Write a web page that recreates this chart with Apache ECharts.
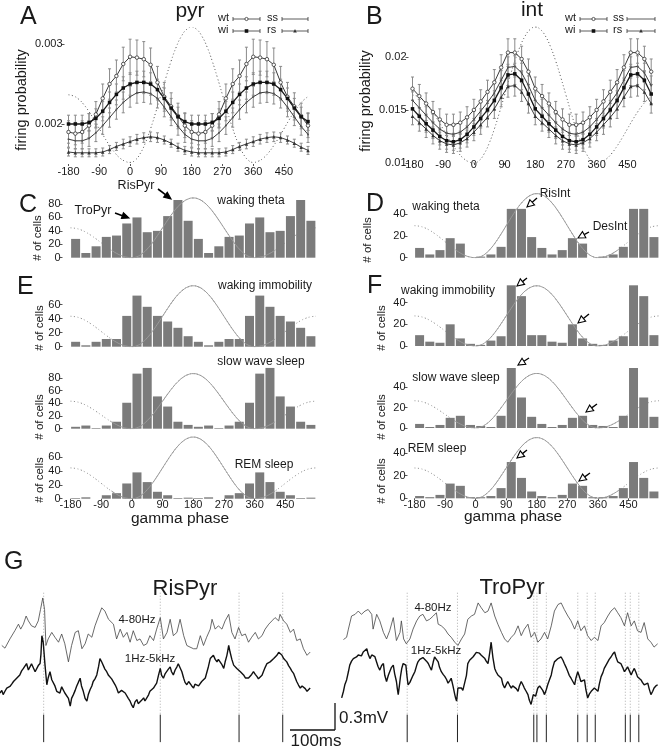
<!DOCTYPE html>
<html><head><meta charset="utf-8">
<script src="https://cdn.jsdelivr.net/npm/echarts@6/dist/echarts.min.js"></script>
<style>html,body{margin:0;padding:0;background:#fff}#c{width:659px;height:747px}</style>
</head><body><div id="c"></div>
<script>
const FONT = '"Liberation Sans", Arial, Helvetica, sans-serif';
const TXT = '#1a1a1a';

// ---------- Panels A/B: firing probability vs gamma phase (20 deg bins, two cycles) ----------
const phasesAB = [-180,-160,-140,-120,-100,-80,-60,-40,-20,0,20,40,60,80,100,120,140,160,180,200,220,240,260,280,300,320,340,360,380,400,420,440,460,480,500,520];
const pyrWt = [0.00190,0.00188,0.00190,0.00198,0.00212,0.00232,0.00250,0.00260,0.00275,0.00284,0.00283,0.00281,0.00274,0.00252,0.00234,0.00222,0.00210,0.00198,
               0.00190,0.00188,0.00190,0.00198,0.00212,0.00232,0.00250,0.00260,0.00275,0.00284,0.00283,0.00281,0.00274,0.00252,0.00234,0.00222,0.00210,0.00198];
const pyrWi = [0.00200,0.00200,0.00200,0.00202,0.00207,0.00216,0.00227,0.00237,0.00245,0.00250,0.00252,0.00252,0.00250,0.00243,0.00232,0.00220,0.00209,0.00203,
               0.00200,0.00200,0.00200,0.00202,0.00207,0.00216,0.00227,0.00237,0.00245,0.00250,0.00252,0.00252,0.00250,0.00243,0.00232,0.00220,0.00209,0.00203];
const pyrSs = [0.00181,0.00179,0.00179,0.00182,0.00189,0.00198,0.00208,0.00218,0.00227,0.00234,0.00239,0.00240,0.00238,0.00232,0.00221,0.00209,0.00197,0.00187,
               0.00181,0.00179,0.00179,0.00182,0.00189,0.00198,0.00208,0.00218,0.00227,0.00234,0.00239,0.00240,0.00238,0.00232,0.00221,0.00209,0.00197,0.00187];
const pyrRs = [0.00165,0.00164,0.00164,0.00164,0.00164,0.00165,0.00168,0.00172,0.00175,0.00178,0.00181,0.00183,0.00184,0.00183,0.00180,0.00176,0.00171,0.00167,
               0.00165,0.00164,0.00164,0.00164,0.00164,0.00165,0.00168,0.00172,0.00175,0.00178,0.00181,0.00183,0.00184,0.00183,0.00180,0.00176,0.00171,0.00167];
const pyrWtErr = [0.00014,0.00014,0.00014,0.00015,0.00016,0.00018,0.00019,0.00020,0.00021,0.00022,0.00022,0.00022,0.00021,0.00020,0.00018,0.00017,0.00016,0.00015,
                  0.00014,0.00014,0.00014,0.00015,0.00016,0.00018,0.00019,0.00020,0.00021,0.00022,0.00022,0.00022,0.00021,0.00020,0.00018,0.00017,0.00016,0.00015];
const pyrWiErr = [0.00011,0.00011,0.00011,0.00011,0.00012,0.00012,0.00013,0.00013,0.00014,0.00014,0.00014,0.00014,0.00014,0.00013,0.00013,0.00012,0.00012,0.00011,
                  0.00011,0.00011,0.00011,0.00011,0.00012,0.00012,0.00013,0.00013,0.00014,0.00014,0.00014,0.00014,0.00014,0.00013,0.00013,0.00012,0.00012,0.00011];
const pyrSsErr = [0.00010,0.00010,0.00010,0.00010,0.00011,0.00011,0.00012,0.00012,0.00013,0.00013,0.00013,0.00013,0.00013,0.00012,0.00012,0.00011,0.00011,0.00010,
                  0.00010,0.00010,0.00010,0.00010,0.00011,0.00011,0.00012,0.00012,0.00013,0.00013,0.00013,0.00013,0.00013,0.00012,0.00012,0.00011,0.00011,0.00010];
const pyrRsErr = [0.00005,0.00005,0.00005,0.00005,0.00005,0.00005,0.00005,0.00005,0.00006,0.00006,0.00006,0.00006,0.00006,0.00006,0.00005,0.00005,0.00005,0.00005,
                  0.00005,0.00005,0.00005,0.00005,0.00005,0.00005,0.00005,0.00005,0.00006,0.00006,0.00006,0.00006,0.00006,0.00006,0.00005,0.00005,0.00005,0.00005];

const intWt = [0.0170,0.0163,0.0156,0.0148,0.0141,0.0136,0.0136,0.0138,0.0143,0.0150,0.0158,0.0167,0.0176,0.0190,0.0204,0.0204,0.0198,0.0186,
               0.0170,0.0163,0.0156,0.0148,0.0141,0.0136,0.0136,0.0138,0.0143,0.0150,0.0158,0.0167,0.0176,0.0190,0.0204,0.0204,0.0198,0.0186];
const intSs = [0.0159,0.0152,0.0145,0.0138,0.0132,0.0128,0.0127,0.0129,0.0134,0.0141,0.0149,0.0157,0.0166,0.0178,0.0190,0.0191,0.0185,0.0173,
               0.0159,0.0152,0.0145,0.0138,0.0132,0.0128,0.0127,0.0129,0.0134,0.0141,0.0149,0.0157,0.0166,0.0178,0.0190,0.0191,0.0185,0.0173];
const intWi = [0.0151,0.0144,0.0137,0.0131,0.0125,0.0121,0.0120,0.0122,0.0127,0.0134,0.0142,0.0150,0.0159,0.0171,0.0183,0.0184,0.0178,0.0165,
               0.0151,0.0144,0.0137,0.0131,0.0125,0.0121,0.0120,0.0122,0.0127,0.0134,0.0142,0.0150,0.0159,0.0171,0.0183,0.0184,0.0178,0.0165];
const intRs = [0.0144,0.0138,0.0132,0.0126,0.0121,0.0118,0.0117,0.0119,0.0123,0.0129,0.0136,0.0143,0.0151,0.0162,0.0172,0.0173,0.0167,0.0156,
               0.0144,0.0138,0.0132,0.0126,0.0121,0.0118,0.0117,0.0119,0.0123,0.0129,0.0136,0.0143,0.0151,0.0162,0.0172,0.0173,0.0167,0.0156];
const intWtErr = [0.0011,0.0011,0.0010,0.0010,0.0010,0.0010,0.0010,0.0010,0.0010,0.0010,0.0011,0.0011,0.0012,0.0012,0.0013,0.0013,0.0012,0.0012,
                  0.0011,0.0011,0.0010,0.0010,0.0010,0.0010,0.0010,0.0010,0.0010,0.0010,0.0011,0.0011,0.0012,0.0012,0.0013,0.0013,0.0012,0.0012];
const intOtherErr = [0.0008,0.0008,0.0008,0.0008,0.0008,0.0008,0.0008,0.0008,0.0008,0.0008,0.0009,0.0009,0.0009,0.0009,0.0010,0.0010,0.0009,0.0009,
                     0.0008,0.0008,0.0008,0.0008,0.0008,0.0008,0.0008,0.0008,0.0008,0.0008,0.0009,0.0009,0.0009,0.0009,0.0010,0.0010,0.0009,0.0009];

// ---------- Panels C-F: histograms (# of cells, 30 deg bins, two cycles) ----------
const binCenters = [-165,-135,-105,-75,-45,-15,15,45,75,105,135,165,195,225,255,285,315,345,375,405,435,465,495,525];
const pyrTheta = [28,7,17,31,33,51,60,38,40,62,86,55, 28,7,17,31,33,51,60,38,40,62,86,55];
const pyrImmob = [7,2,7,11,11,44,73,57,44,36,27,15, 7,2,7,11,11,44,73,57,44,36,27,15];
const pyrSws   = [3,5,1,5,11,41,87,96,51,35,11,6, 3,5,1,5,11,41,87,96,51,35,11,6];
const pyrRem   = [1,2,0,5,8,22,38,24,10,5,1,1.5, 1,2,0,5,8,22,38,24,10,5,1,1.5];
const intTheta = [9,3,7,18,13,0,1,3,10,45,45,19, 9,3,7,18,13,0,1,3,10,45,45,19];
const intImmob = [10,4,3,20,7,2,1,5,9,56,46,10, 10,4,3,20,7,2,1,5,9,56,46,10];
const intSws   = [4,1,3,10,12,3,2,1,12,59,30,11, 4,1,3,10,12,3,2,1,12,59,30,11];
const intRem   = [2,1,3,13,11,1,1,2,9,32,18,6, 2,1,3,13,11,1,1,2,9,32,18,6];

// reference gamma cycle (normalised 0..1; outer cycles at half amplitude)
const gammaPhases = [-180,-165,-150,-135,-120,-105,-90,-75,-60,-45,-30,-15,0,15,30,45,60,75,90,105,120,135,150,165,180,195,210,225,240,255,270,285,300,315,330,345,360,375,390,405,420,435,450,465,480,495,510,525,540];
const gammaShape = [0.5,0.491,0.467,0.427,0.375,0.315,0.25,0.185,0.125,0.073,0.033,0.009,0,
                    0.017,0.067,0.146,0.25,0.371,0.5,0.629,0.75,0.854,0.933,0.983,1,
                    0.983,0.933,0.854,0.75,0.629,0.5,0.371,0.25,0.146,0.067,0.017,0,
                    0.009,0.033,0.073,0.125,0.185,0.25,0.315,0.375,0.427,0.467,0.491,0.5];
const phaseTicks = [-180,-90,0,90,180,270,360,450];

// ---------- Panel G: traces (t in ms, v in microvolt) ----------
const risFast = [[4,37],[11,7],[22,111],[33,204],[41,278],[46,222],[52,278],[58,370],[63,315],[70,259],[78,241],[85,315],[90,444],[95,574],[99,444],[102,37],[107,111],[115,185],[122,130],[130,74],[137,167],[144,56],[152,-148],[159,37],[167,185],[174,204],[182,0],[189,56],[196,167],[204,130],[211,259],[219,370],[226,463],[233,426],[241,333],[252,278],[259,111],[267,222],[274,130],[282,185],[289,74],[296,204],[304,93],[311,111],[319,37],[326,56],[333,148],[341,93],[348,222],[356,352],[363,111],[371,185],[378,333],[385,148],[393,185],[400,333],[408,148],[415,37],[422,19],[430,0],[437,0],[445,148],[452,37],[459,130],[467,222],[471,333],[478,222],[485,259],[493,222],[500,315],[508,389],[515,185],[522,111],[530,241],[537,148],[545,167],[552,74],[559,130],[567,185],[574,111],[582,148],[589,222],[597,278],[604,315],[611,352],[619,315],[622,389],[630,315],[637,278],[645,185],[652,222],[659,93],[667,111],[674,0],[682,-74],[689,-37]];
const risRaw = [[0,-500],[4,-470],[7,-518],[11,-480],[15,-444],[19,-460],[22,-426],[26,-400],[30,-370],[33,-390],[37,-333],[41,-320],[44,-296],[48,-250],[52,-222],[55,-200],[59,-167],[63,-240],[67,-222],[70,-170],[74,-185],[78,-260],[82,-241],[85,-190],[89,-167],[91,-60],[93,148],[96,74],[100,-185],[104,-407],[107,-330],[111,-259],[115,-350],[119,-333],[122,-420],[126,-481],[130,-460],[133,-500],[137,-430],[141,-444],[144,-500],[148,-481],[152,-560],[156,-648],[159,-560],[163,-518],[167,-470],[170,-426],[174,-380],[178,-333],[181,-420],[185,-481],[189,-560],[193,-592],[196,-520],[200,-463],[204,-420],[207,-370],[211,-340],[215,-296],[219,-200],[222,-111],[226,-150],[230,-167],[233,-230],[237,-259],[241,-300],[245,-296],[248,-340],[252,-352],[256,-410],[259,-444],[263,-500],[267,-518],[270,-470],[274,-463],[278,-500],[282,-518],[285,-560],[289,-592],[293,-640],[296,-666],[300,-600],[304,-574],[307,-620],[311,-629],[315,-580],[319,-555],[322,-590],[326,-574],[330,-520],[333,-481],[337,-470],[341,-444],[344,-420],[348,-389],[352,-300],[356,-222],[359,-300],[363,-333],[367,-280],[371,-259],[374,-230],[378,-204],[381,-260],[385,-296],[389,-240],[393,-204],[396,-170],[400,-148],[404,-260],[408,-333],[411,-380],[415,-407],[419,-370],[422,-352],[426,-420],[430,-444],[433,-400],[437,-389],[441,-420],[445,-407],[448,-370],[452,-352],[456,-330],[459,-315],[463,-200],[467,-111],[470,-90],[474,-74],[478,-120],[482,-148],[485,-120],[489,-111],[493,-180],[497,-222],[500,-150],[504,-74],[506,-20],[508,37],[511,-37],[515,-120],[519,-185],[522,-200],[526,-222],[530,-240],[534,-259],[537,-280],[541,-296],[545,-330],[548,-352],[552,-330],[556,-315],[559,-290],[563,-259],[567,-290],[571,-315],[574,-340],[578,-352],[582,-300],[585,-259],[589,-210],[593,-167],[596,-160],[600,-148],[604,-130],[608,-111],[611,-90],[615,-74],[619,-40],[622,-19],[626,-70],[630,-111],[633,-130],[637,-148],[641,-190],[645,-222],[648,-250],[652,-278],[656,-330],[659,-370],[663,-410],[667,-444],[671,-420],[674,-407],[678,-450],[682,-481],[685,-460],[689,-444]];
const risSpikes = [97,356,531,628];

const troFast = [[30,104],[37,130],[41,222],[48,370],[56,389],[63,426],[70,389],[78,426],[85,444],[93,389],[96,222],[104,389],[111,315],[119,185],[126,111],[133,204],[141,352],[148,93],[156,185],[159,315],[164,111],[170,56],[178,111],[185,222],[193,315],[200,370],[207,389],[215,315],[222,333],[230,370],[237,407],[241,278],[248,259],[256,222],[263,167],[270,130],[278,74],[285,37],[293,111],[300,167],[307,333],[315,370],[322,389],[330,518],[337,463],[345,407],[352,426],[359,518],[367,370],[374,278],[382,185],[389,111],[396,74],[404,130],[411,167],[419,259],[426,148],[433,222],[441,278],[448,130],[456,185],[463,74],[470,111],[478,185],[485,111],[493,259],[500,426],[508,500],[515,518],[522,444],[530,370],[537,315],[545,222],[552,315],[559,204],[567,259],[574,148],[582,93],[589,130],[597,93],[604,259],[611,296],[619,370],[626,426],[634,463],[641,407],[648,352],[656,259],[663,407],[671,259],[678,315],[685,204],[693,185],[700,296],[708,111],[715,74],[722,19],[730,56]];
const troRaw = [[26,-555],[30,-480],[33,-407],[37,-352],[41,-260],[44,-185],[48,-140],[52,-111],[55,-130],[59,-93],[63,-70],[67,-56],[70,-80],[74,-37],[78,-20],[82,0],[85,-60],[89,-111],[93,-70],[96,-56],[100,-90],[104,-111],[107,-200],[111,-241],[115,-190],[119,-167],[122,-300],[126,-370],[130,-300],[133,-259],[137,-210],[141,-185],[144,-280],[148,-370],[150,-450],[152,-518],[155,-400],[157,-315],[160,-220],[163,-167],[166,-175],[169,-185],[172,-330],[174,-407],[178,-380],[182,-370],[185,-300],[189,-259],[193,-190],[196,-148],[200,-120],[204,-111],[207,-100],[211,-93],[215,-140],[219,-167],[222,-200],[226,-241],[230,-150],[233,-93],[237,-120],[241,-148],[244,-210],[248,-259],[252,-290],[256,-315],[260,-350],[263,-389],[267,-360],[270,-333],[274,-420],[278,-518],[280,-560],[282,-592],[284,-500],[285,-444],[289,-430],[293,-444],[296,-470],[300,-481],[304,-300],[307,-167],[311,-130],[315,-111],[319,-90],[322,-74],[326,-40],[330,-19],[333,-50],[337,-74],[341,-90],[345,-111],[348,-140],[352,-167],[356,-40],[359,74],[363,-100],[367,-222],[370,-260],[374,-296],[378,-310],[382,-333],[385,-400],[389,-444],[393,-400],[396,-370],[400,-410],[404,-444],[407,-420],[411,-407],[415,-450],[419,-481],[422,-420],[426,-370],[430,-410],[433,-444],[437,-480],[441,-518],[444,-580],[448,-629],[451,-560],[453,-518],[456,-530],[458,-537],[461,-480],[463,-444],[467,-420],[470,-407],[474,-470],[478,-518],[482,-460],[485,-407],[489,-350],[493,-296],[496,-220],[500,-148],[504,-130],[508,-111],[511,-100],[515,-93],[519,-130],[522,-167],[526,-210],[530,-259],[533,-300],[537,-333],[541,-370],[545,-407],[548,-330],[552,-259],[556,-320],[559,-370],[563,-360],[567,-352],[570,-460],[574,-555],[578,-510],[582,-481],[585,-460],[589,-444],[593,-460],[597,-481],[600,-400],[604,-315],[608,-270],[611,-222],[615,-185],[619,-148],[622,-120],[626,-93],[630,-60],[634,-37],[637,-90],[641,-148],[645,-160],[648,-167],[652,-210],[656,-259],[660,-230],[663,-204],[667,-250],[671,-296],[674,-260],[678,-222],[682,-270],[685,-315],[689,-330],[693,-352],[696,-380],[700,-407],[704,-400],[708,-389],[711,-450],[715,-518],[719,-480],[722,-444],[726,-420],[730,-407]];
const troSpikes = [172,284,454,461,482,552,573,591,658,669,688];

// ================= build option =================
const grids = [], xAxes = [], yAxes = [], series = [], gfx = [];
function addGrid(g, x, y) { grids.push(g); const i = grids.length - 1; x.gridIndex = i; y.gridIndex = i; xAxes.push(x); yAxes.push(y); return i; }
function phaseX(min, max, labels, margin) {
  return { type:'value', min:min, max:max, axisLine:{show:false, onZero:false}, splitLine:{show:false},
    axisTick:{show:labels, length:2, customValues:phaseTicks, lineStyle:{color:'#555', width:1}},
    axisLabel:{show:labels, customValues:phaseTicks, fontSize:11, color:TXT, fontFamily:FONT, margin:margin} };
}
function valY(min, max, ticks, offset, fmt) {
  const y = { type:'value', min:min, max:max, offset:offset, axisLine:{show:false, onZero:false}, splitLine:{show:false},
    axisTick:{show:true, length:3, customValues:ticks, lineStyle:{color:'#555', width:1}},
    axisLabel:{customValues:ticks, fontSize:11, color:TXT, fontFamily:FONT, margin:2} };
  if (fmt) y.axisLabel.formatter = fmt;
  return y;
}
function zip(xs, ys) { return xs.map((x, i) => [x, ys[i]]); }
function gammaData(lo, hi, keep) {
  const out = [];
  gammaPhases.forEach((p, i) => { if (!keep || keep(p)) out.push([p, lo + gammaShape[i] * (hi - lo)]); });
  return out;
}
function gammaLines(g, lo, hi, allDotted) {
  series.push({ type:'line', xAxisIndex:g, yAxisIndex:g, data:gammaData(lo, hi), showSymbol:false, smooth:true, silent:true, z:1,
    lineStyle:{color: allDotted ? '#555' : '#8a8a8a', width:1, type:[1,2.5]} });
  if (!allDotted) series.push({ type:'line', xAxisIndex:g, yAxisIndex:g, data:gammaData(lo, hi, p => p >= -60 && p <= 420),
    showSymbol:false, smooth:true, silent:true, z:4, lineStyle:{color:'#9a9a9a', width:1} });
}
function errSeries(g, xs, ys, es, color) {
  return { type:'custom', xAxisIndex:g, yAxisIndex:g, silent:true, z:2,
    data: xs.map((x, i) => [x, ys[i] - es[i], ys[i] + es[i]]),
    renderItem: function (params, api) {
      const a = api.coord([api.value(0), api.value(1)]), b = api.coord([api.value(0), api.value(2)]);
      const st = {stroke:color, lineWidth:1};
      return { type:'group', children:[
        {type:'line', shape:{x1:a[0], y1:a[1], x2:b[0], y2:b[1]}, style:st},
        {type:'line', shape:{x1:a[0]-1.5, y1:a[1], x2:a[0]+1.5, y2:a[1]}, style:st},
        {type:'line', shape:{x1:b[0]-1.5, y1:b[1], x2:b[0]+1.5, y2:b[1]}, style:st}
      ]};
    } };
}
function curve(g, ys, kind) {
  const s = { type:'line', xAxisIndex:g, yAxisIndex:g, data:zip(phasesAB, ys), showSymbol:true, silent:true, z:3,
    lineStyle:{color:'#3a3a3a', width:1} };
  if (kind === 'wt') { s.symbol = 'circle'; s.symbolSize = 3.5; s.itemStyle = {color:'#fff', borderColor:'#333', borderWidth:0.8}; }
  if (kind === 'wi') { s.symbol = 'rect'; s.symbolSize = 3.5; s.itemStyle = {color:'#111'}; s.lineStyle = {color:'#1a1a1a', width:1.3}; }
  if (kind === 'ss') { s.symbol = 'circle'; s.symbolSize = 2; s.itemStyle = {color:'#555'}; }
  if (kind === 'rs') { s.symbol = 'triangle'; s.symbolSize = 3.5; s.itemStyle = {color:'#333'}; }
  series.push(s);
}
function bars(g, vals) {
  series.push({ type:'bar', xAxisIndex:g, yAxisIndex:g, data:zip(binCenters, vals), barWidth:9, silent:true, z:2,
    itemStyle:{color:'#7b7b7b'} });
}

// ---- A ----
const gA = addGrid({left:68.5, top:28, width:239.5, height:136},
  phaseX(-180, 520, true, 2), valY(0.0015, 0.0032, [0.002, 0.003], 4, v => v.toFixed(3)));
gammaLines(gA, 0.00152, 0.00321, true);
[[pyrWt,pyrWtErr,'wt'],[pyrWi,pyrWiErr,'wi'],[pyrSs,pyrSsErr,'ss'],[pyrRs,pyrRsErr,'rs']].forEach(d => {
  series.push(errSeries(gA, phasesAB, d[0], d[1], '#8a8a8a')); curve(gA, d[0], d[2]);
});
// ---- B ----
const gB = addGrid({left:412.5, top:25, width:238.7, height:138},
  phaseX(-180, 520, true, -4), valY(0.01, 0.023, [0.01, 0.015, 0.02], 4, v => String(+v.toFixed(3))));
gammaLines(gB, 0.01, 0.0228, true);
[[intWt,intWtErr,'wt'],[intSs,intOtherErr,'ss'],[intWi,intOtherErr,'wi'],[intRs,intOtherErr,'rs']].forEach(d => {
  series.push(errSeries(gB, phasesAB, d[0], d[1], '#8a8a8a')); curve(gB, d[0], d[2]);
});
// ---- histograms ----
function hist(left, width, top, height, ymax, ticks, vals, peak, showX, yoff) {
  const g = addGrid({left:left, top:top, width:width, height:height}, phaseX(-180, 540, showX, 1), valY(0, ymax, ticks, yoff));
  gammaLines(g, 0, peak, false);
  bars(g, vals);
  return g;
}
hist(70.5, 245.5, 197.3, 60.4, 90, [0,20,40,60,80], pyrTheta, 89, false, 8);
hist(414.5, 245, 192.6, 65.1, 60, [0,20,40], intTheta, 59, false, 7);
hist(70.5, 245.5, 285.1, 61.6, 88, [0,20,40,60], pyrImmob, 87, false, 8);
hist(70.5, 245.5, 367.3, 61.4, 97, [0,20,40,60,80], pyrSws, 87, false, 8);
hist(70.5, 245.5, 436.4, 62.3, 90, [0,20,40,60], pyrRem, 89, true, 8);
hist(414.5, 245, 285.3, 60.7, 56, [0,20,40], intImmob, 55.5, false, 7);
hist(414.5, 245, 367.5, 60.5, 59.5, [0,20,40], intSws, 53.6, false, 7);
hist(414.5, 245, 437.1, 61.2, 54, [0,20,40], intRem, 53.5, true, 7);

// ---- G traces ----
function hidden(min, max) { return {type:'value', min:min, max:max, show:false, splitLine:{show:false}, axisLine:{onZero:false}}; }
function spikeSeries(g, times) {
  return { type:'custom', xAxisIndex:g, yAxisIndex:g, silent:true, z:1, data: times.map(t => [t, 0]),
    renderItem: function (params, api) {
      const t = api.value(0);
      const a = api.coord([t, 633]), b = api.coord([t, -744]), c = api.coord([t, -1055]);
      return { type:'group', children:[
        {type:'line', shape:{x1:a[0], y1:a[1], x2:b[0], y2:b[1]}, style:{stroke:'#9a9a9a', lineWidth:0.8, lineDash:[1,2]}},
        {type:'line', shape:{x1:b[0], y1:b[1], x2:c[0], y2:c[1]}, style:{stroke:'#222', lineWidth:1}}
      ]};
    } };
}
[[0, risFast, risRaw, risSpikes], [330, troFast, troRaw, troSpikes]].forEach(d => {
  const g = addGrid({left:d[0], top:580, width:330, height:170}, hidden(0, 733), hidden(-1110, 777));
  series.push(spikeSeries(g, d[3]));
  series.push({type:'line', xAxisIndex:g, yAxisIndex:g, data:d[1], showSymbol:false, silent:true, z:3, lineStyle:{color:'#444', width:0.8}});
  series.push({type:'line', xAxisIndex:g, yAxisIndex:g, data:d[2], showSymbol:false, silent:true, z:3, lineStyle:{color:'#111', width:1.4}});
});

// ================= annotations =================
function T(text, x, y, size, opt) {
  opt = opt || {};
  gfx.push({ type:'text', x:x, y:y, rotation: opt.rot || 0, silent:true, z:10,
    style:{ text:text, fontSize:size, fontFamily:FONT, fill: opt.fill || TXT, align: opt.align || 'center', verticalAlign:'middle' } });
}
function L(x1, y1, x2, y2, color, w, dash) {
  gfx.push({ type:'line', silent:true, z:10, shape:{x1:x1, y1:y1, x2:x2, y2:y2}, style:{stroke: color || '#222', lineWidth: w || 1, lineDash: dash || null} });
}
function arrow(x1, y1, x2, y2, hollow) {
  const ang = Math.atan2(y2 - y1, x2 - x1), Lh = 7, W = hollow ? 3.5 : 3;
  const bx = x2 - Lh * Math.cos(ang), by = y2 - Lh * Math.sin(ang);
  const px = -Math.sin(ang), py = Math.cos(ang);
  L(x1, y1, bx, by, '#000', hollow ? 1.3 : 1.6);
  gfx.push({ type:'polygon', silent:true, z:11, shape:{points:[[x2, y2], [bx + W * px, by + W * py], [bx - W * px, by - W * py]]},
    style:{fill: hollow ? '#fff' : '#000', stroke:'#000', lineWidth:1.1} });
}
function legendLine(x1, x2, y, marker) {
  L(x1, y, x2, y, '#333', 0.8);
  L(x1, y - 2, x1, y + 2, '#333', 0.8); L(x2, y - 2, x2, y + 2, '#333', 0.8);
  const cx = (x1 + x2) / 2;
  if (marker === 'circle') gfx.push({type:'circle', silent:true, z:11, shape:{cx:cx, cy:y, r:1.6}, style:{fill:'#fff', stroke:'#333', lineWidth:0.8}});
  if (marker === 'rect') gfx.push({type:'rect', silent:true, z:11, shape:{x:cx - 1.8, y:y - 1.8, width:3.6, height:3.6}, style:{fill:'#111'}});
  if (marker === 'tri') gfx.push({type:'polygon', silent:true, z:11, shape:{points:[[cx, y - 2], [cx - 1.8, y + 1.5], [cx + 1.8, y + 1.5]]}, style:{fill:'#333'}});
}
// panel letters & titles
T('A', 20, 17, 25, {align:'left'}); T('pyr', 190, 11, 21);
T('B', 366, 17, 25, {align:'left'}); T('int', 532, 10, 21);
T('C', 19, 205, 25, {align:'left'}); T('D', 366, 204, 25, {align:'left'});
T('E', 17, 287, 25, {align:'left'}); T('F', 367, 286, 25, {align:'left'});
T('G', 4, 562, 25, {align:'left'});
// legends
T('wt', 218, 18, 11, {align:'left'}); legendLine(233, 260, 19, 'circle');
T('ss', 267, 18, 11, {align:'left'}); legendLine(282, 308, 19, null);
T('wi', 218, 30, 11, {align:'left'}); legendLine(233, 260, 31, 'rect');
T('rs', 267, 30, 11, {align:'left'}); legendLine(282, 308, 31, 'tri');
T('wt', 565, 18, 11, {align:'left'}); legendLine(580, 607, 19, 'circle');
T('ss', 613, 18, 11, {align:'left'}); legendLine(627, 655, 19, null);
T('wi', 565, 30, 11, {align:'left'}); legendLine(580, 607, 31, 'rect');
T('rs', 613, 30, 11, {align:'left'}); legendLine(627, 655, 31, 'tri');
// axis names
T('firing probability', 22, 100, 14.5, {rot:Math.PI / 2});
T('firing probability', 366, 101, 14.5, {rot:Math.PI / 2});
[[38, 238], [40, 328], [40, 417], [40, 480], [368, 240], [382, 328], [382, 417], [382, 481]].forEach(p => T('# of cells', p[0], p[1], 11.5, {rot:Math.PI / 2}));
T('gamma phase', 180, 519, 15.5); T('gamma phase', 513, 517, 15.5);
// state labels
T('waking theta', 251, 201, 12); T('waking theta', 446, 207, 12);
T('waking immobility', 265, 286, 12); T('slow wave sleep', 261, 362, 12); T('REM sleep', 264, 465, 12);
T('waking immobility', 448, 291, 12); T('slow wave sleep', 456, 378, 12); T('REM sleep', 437, 449, 12);
// cell type annotations & arrows
T('RisPyr', 136, 186, 12.5); T('TroPyr', 93, 211, 12.5);
arrow(158, 189, 171, 199, false); arrow(115, 213, 129, 218, false);
T('RisInt', 555, 194, 12); T('DesInt', 610, 227, 12);
arrow(537, 198, 527, 207, true); arrow(589, 232, 578, 238, true);
arrow(527, 278, 517, 286, true); arrow(589, 314, 578, 323, true);
arrow(529, 358, 518, 365, true); arrow(597, 404, 586, 412, true);
arrow(527, 450, 517, 458, true); arrow(590, 473, 579, 481, true);
// G labels
T('RisPyr', 185, 589, 22); T('TroPyr', 512, 588, 22);
T('4-80Hz', 137, 620, 11.5); T('1Hz-5kHz', 150, 659, 11.5);
T('4-80Hz', 433, 608, 11.5); T('1Hz-5kHz', 436, 651, 11.5);
// scale bar
L(290, 730, 335, 730, '#111', 1.3); L(335, 703, 335, 730, '#111', 1.3);
T('0.3mV', 339, 718, 17, {align:'left'}); T('100ms', 316, 741, 17);

const chart = echarts.init(document.getElementById('c'), null, {renderer:'canvas'});
chart.setOption({ animation:false, textStyle:{fontFamily:FONT}, grid:grids, xAxis:xAxes, yAxis:yAxes, series:series, graphic:gfx });
</script>
</body></html>
